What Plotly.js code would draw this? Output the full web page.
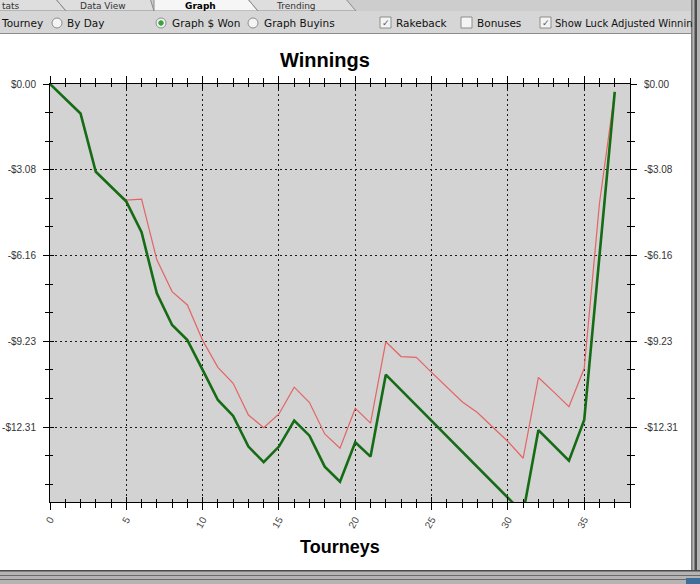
<!DOCTYPE html>
<html>
<head>
<meta charset="utf-8">
<script src="https://cdn.plot.ly/plotly-3.0.1.min.js"></script>
<style>html,body{margin:0;padding:0;background:#fff;}#chart{width:700px;height:584px;}</style>
</head>
<body>
<div id="chart"></div>
<script>
// ---- data ----
const tourneys = [0,1,2,3,4,5,6,7,8,9,10,11,12,13,14,15,16,17,18,19,20,21,22,23,24,25,26,27,28,29,30,31,32,33,34,35,36,37];
const winnings = [0,-0.53,-1.06,-3.15,-3.69,-4.22,-5.32,-7.51,-8.65,-9.19,-10.26,-11.34,-11.91,-13.01,-13.57,-13.01,-12.08,-12.62,-13.73,-14.27,-12.86,-13.37,-10.43,-10.98,-11.53,-12.07,-12.62,-13.17,-13.72,-14.26,-14.81,-15.40,-12.42,-12.97,-13.52,-12.06,-6.17,-0.28];
const luckAdjusted = [0,-0.53,-1.06,-3.15,-3.69,-4.17,-4.13,-6.31,-7.45,-7.93,-9.20,-10.17,-10.74,-11.88,-12.33,-11.84,-10.88,-11.43,-12.56,-13.07,-11.64,-12.17,-9.25,-9.78,-9.81,-10.35,-10.88,-11.40,-11.79,-12.31,-12.83,-13.43,-10.53,-11.05,-11.58,-10.20,-4.28,-0.28];
const yTickVals = [0,-3.0775,-6.155,-9.2325,-12.31];
const yTickText = ['$0.00','-$3.08','-$6.16','-$9.23','-$12.31'];
const xTickVals = [0,5,10,15,20,25,30,35];
const xTickText = ['0','5','10','15','20','25','30','35'];

// ---- layout helpers (pixel -> paper) ----
const L = 50, R = 630, T = 84, B = 502;
const px = x => (x - L) / (R - L);
const py = y => (B - y) / (B - T);

const shapes = [];
const annotations = [];
function rect(x0,y0,x1,y1,fill,line){shapes.push({type:'rect',xref:'paper',yref:'paper',x0:px(x0),x1:px(x1),y0:py(y1),y1:py(y0),fillcolor:fill,line:{width:line?1:0,color:line||fill},layer:'above'});}
function path(pts,fill,line){let d='';pts.forEach((p,i)=>{d+=(i?'L':'M')+px(p[0])+','+py(p[1]);});if(fill)d+='Z';shapes.push({type:'path',xref:'paper',yref:'paper',path:d,fillcolor:fill||'rgba(0,0,0,0)',line:{width:1,color:line},layer:'above'});}
function circ(cx,cy,r,fill,line){shapes.push({type:'circle',xref:'paper',yref:'paper',x0:px(cx-r),x1:px(cx+r),y0:py(cy+r),y1:py(cy-r),fillcolor:fill,line:{width:1,color:line},layer:'above'});}
function text(t,x,y,opt){opt=opt||{};annotations.push({text:t,xref:'paper',yref:'paper',x:px(x),y:py(y),xanchor:opt.anchor||'left',yanchor:'middle',showarrow:false,borderpad:0,font:{family:opt.family||'DejaVu Sans',size:opt.size||10.5,color:opt.color||'#111'}});}

// toolbar / tabs
rect(0,0,691,11,'#cdcdcd');
path([[-5,11],[-5,-2],[55,-2],[66,11]],'#dedede','#8a8a8a');
path([[66,11],[55,-2],[150,-2],[154,11]],'#dedede','#8a8a8a');
path([[154,11],[154,-2],[247,-2],[258,11]],'#f6f6f6','#8a8a8a');
path([[258,11],[247,-2],[345,-2],[356,11]],'#dedede','#8a8a8a');
rect(0,11,691,33,'#d6d6d6');
rect(0,33,691,34,'#8c8c8c');
text('tats',1,5.5,{size:9,color:'#333'});
text('Data View',103,5.5,{anchor:'center',size:9,color:'#333'});
text('<b>Graph</b>',200,5.5,{anchor:'center',size:9,color:'#000'});
text('Trending',296,5.5,{anchor:'center',size:9,color:'#333'});
text('Tourney',0,23);
circ(57,23,5,'#f4f4f4','#8d8d8d');
text('By Day',66,23);
circ(161,23,5,'#f4f4f4','#8d8d8d');
circ(161,23,2.3,'#3aa33a','#3aa33a');
text('Graph $ Won',171,23);
circ(253,23,5,'#f4f4f4','#8d8d8d');
text('Graph Buyins',263,23);
rect(380,17,391,28,'#f4f4f4','#8d8d8d');
text('✓',385.5,22.5,{anchor:'center',size:9,color:'#555'});
text('Rakeback',395,23);
rect(461,17,472,28,'#f4f4f4','#8d8d8d');
text('Bonuses',476,23);
rect(540,17,551,28,'#f4f4f4','#8d8d8d');
text('✓',545.5,22.5,{anchor:'center',size:9,color:'#555'});
text('Show Luck Adjusted Winnin',554,23,{size:10});
// right + bottom window frame
rect(691,0,700,584,'#b4b4b4');
rect(691,0,692.5,584,'#7a7a7a');
rect(694.5,0,697,584,'#4c4c4c');
rect(0,570,700,584,'#b4b4b4');
rect(0,570,700,571.5,'#4a4a4a');
rect(0,575,700,576,'#6a6a6a');
rect(0,579,700,580,'#6a6a6a');
rect(686,578,700,584,'#3d6f9a');
// x axis title
text('<b>Tourneys</b>',340,547,{anchor:'center',family:'Liberation Sans, Arial',size:18,color:'#000'});

const tickFont = {family:'Liberation Sans, Arial', size:10, color:'#333'};
const xTickFont = {family:'Liberation Sans, Arial', size:10, color:'#444'};

const traces = [
  {x:tourneys, y:luckAdjusted, type:'scatter', mode:'lines', line:{color:'#e46464', width:1.2}, showlegend:false, hoverinfo:'skip'},
  {x:tourneys, y:winnings, type:'scatter', mode:'lines', line:{color:'#156c15', width:2.6}, showlegend:false, hoverinfo:'skip'},
  {x:[null], y:[null], xaxis:'x2', yaxis:'y2', type:'scatter', mode:'lines', showlegend:false, hoverinfo:'skip'}
];

const layout = {
  width:700, height:584,
  margin:{l:L, r:700-R, t:T, b:584-B, pad:0},
  paper_bgcolor:'#ffffff',
  plot_bgcolor:'#d3d3d3',
  showlegend:false,
  title:{text:'<b>Winnings</b>', font:{family:'Liberation Sans, Arial', size:20, color:'#000'}, xref:'container', x:325/700, xanchor:'center', yref:'container', y:1-60/584, yanchor:'middle'},
  xaxis:{range:[0,38], tickmode:'array', tickvals:xTickVals, ticktext:xTickText, tickangle:-60, tickfont:xTickFont,
         ticks:'outside', ticklen:7, tickcolor:'#000', tickwidth:1,
         minor:{dtick:1, tick0:0, ticks:'outside', ticklen:5, tickcolor:'#000', showgrid:false},
         showline:true, linecolor:'#000', linewidth:1, mirror:'ticks',
         showgrid:true, gridcolor:'#1a1a1a', gridwidth:1, griddash:'2px,3px', zeroline:false, fixedrange:true},
  xaxis2:{overlaying:'x', anchor:'y', range:[0,38], tickmode:'array', tickvals:xTickVals, showticklabels:false,
         ticks:'inside', ticklen:5, tickcolor:'#000',
         minor:{dtick:1, tick0:0, ticks:'inside', ticklen:3, tickcolor:'#000', showgrid:false},
         showline:true, linecolor:'#000', mirror:'ticks', showgrid:false, zeroline:false},
  yaxis:{range:[-15,0], tickmode:'array', tickvals:yTickVals, ticktext:yTickText, tickfont:tickFont,
         ticks:'outside', ticklen:6, tickcolor:'#000',
         minor:{dtick:1.025833, tick0:0, ticks:'outside', ticklen:4, tickcolor:'#000', showgrid:false},
         showline:true, linecolor:'#000', mirror:'ticks', ticklabelstandoff:5,
         showgrid:true, gridcolor:'#1a1a1a', gridwidth:1, griddash:'2px,3px', zeroline:false, fixedrange:true},
  yaxis2:{overlaying:'y', side:'right', anchor:'x', range:[-15,0], tickmode:'array', tickvals:yTickVals, ticktext:yTickText, tickfont:tickFont,
         ticks:'inside', ticklen:4, tickcolor:'#000',
         minor:{dtick:1.025833, tick0:0, ticks:'inside', ticklen:3, tickcolor:'#000', showgrid:false},
         showline:true, linecolor:'#000', mirror:'ticks', ticklabelstandoff:11,
         showgrid:false, zeroline:false},
  shapes:shapes,
  annotations:annotations
};

Plotly.newPlot('chart', traces, layout, {displayModeBar:false, staticPlot:true});
</script>
</body>
</html>
